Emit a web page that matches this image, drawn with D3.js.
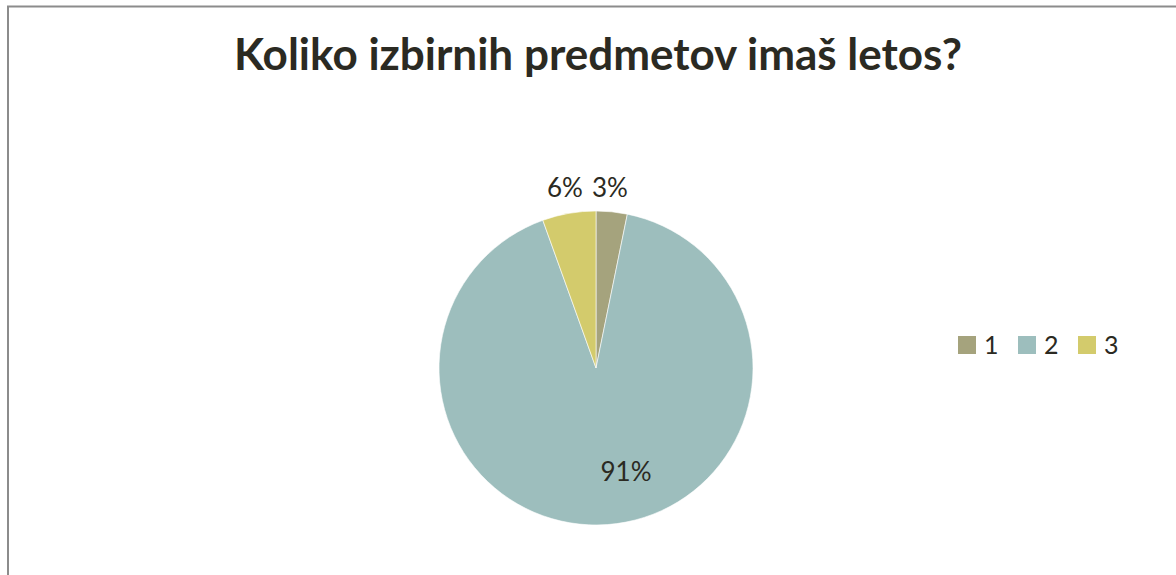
<!DOCTYPE html>
<html><head><meta charset="utf-8">
<script src="https://cdn.jsdelivr.net/npm/d3@7"></script>
<style>body{margin:0;background:#fff;}svg{display:block;}</style>
</head><body>
<svg id="c" width="1176" height="575"></svg>
<script>
const title = "Koliko izbirnih predmetov imaš letos?";
const categories = ["1", "2", "3"];
const values = [3.2, 91.3, 5.5];
const labels = ["3%", "91%", "6%"];
const colors = ["#a5a37d", "#9dbebd", "#d3cb6c"];

const svg = d3.select("#c");
const textColor = "#2b2a22";
const font = "Lato, 'Open Sans', sans-serif";

// frame
svg.append("rect").attr("x", 8).attr("y", 6.5).attr("width", 1200).attr("height", 600)
  .attr("fill", "#fff").attr("stroke", "#8c8c8c").attr("stroke-width", 2);

// title
const t = svg.append("text").attr("x", 598).attr("y", 70).attr("text-anchor", "middle")
  .attr("font-family", font).attr("font-weight", "bold").attr("font-size", 38)
  .attr("fill", textColor).text(title);
const w = t.node().getComputedTextLength();
t.attr("font-size", 38 * 728 / w);

const cx = 596, cy = 368, r = 157;
const data = categories.map((c, i) => ({ cat: c, value: values[i], label: labels[i], color: colors[i] }));
const pie = d3.pie().value(d => d.value).sort(null);
const arc = d3.arc().innerRadius(0).outerRadius(r);
const arcs = pie(data);
const g = svg.append("g").attr("transform", `translate(${cx},${cy})`);
g.selectAll("path").data(arcs).join("path").attr("d", arc)
  .attr("fill", d => d.data.color).attr("stroke", "#fff").attr("stroke-width", 0.6);

// labels
const labelPos = [[610, 197], [626, 481], [565, 197]];
svg.selectAll("text.lab").data(data).join("text").attr("class", "lab")
  .attr("x", (d, i) => labelPos[i][0]).attr("y", (d, i) => labelPos[i][1])
  .attr("text-anchor", "middle").attr("font-family", font).attr("font-size", 26)
  .attr("fill", textColor).text(d => d.label);

// legend
const leg = svg.append("g");
const legX = [958, 1018, 1078];
data.forEach((d, i) => {
  leg.append("rect").attr("x", legX[i]).attr("y", 336).attr("width", 18).attr("height", 18).attr("fill", d.color);
  leg.append("text").attr("x", legX[i] + 26).attr("y", 354).attr("font-family", font).attr("font-size", 25)
    .attr("fill", textColor).text(d.cat);
});
</script>
</body></html>
